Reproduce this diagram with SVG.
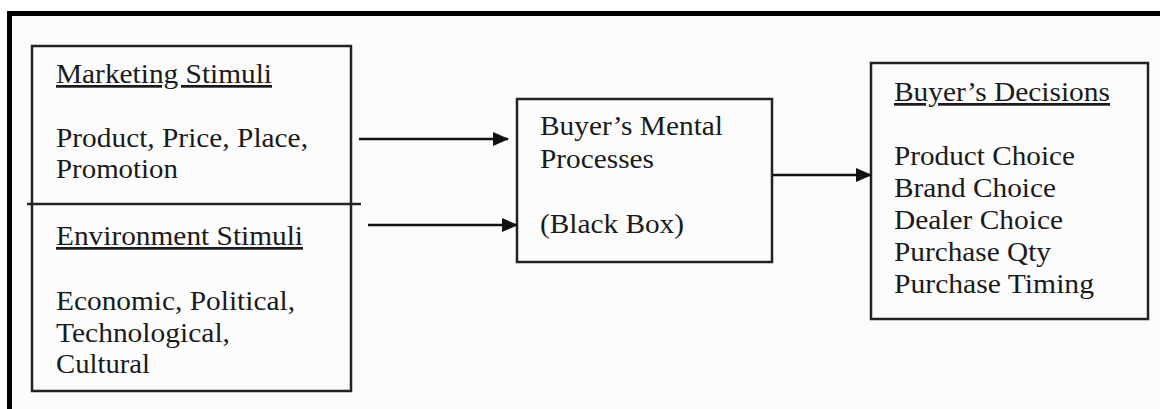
<svg xmlns="http://www.w3.org/2000/svg" width="1160" height="409" viewBox="0 0 1160 409">
<style>
.t{font-family:"Liberation Serif","Times New Roman",serif;font-size:27px;fill:#1a1a1a}
.u{text-decoration:underline}
.box{fill:none;stroke:#222;stroke-width:2.5}
.con{stroke:#111;stroke-width:2.5;fill:none}
</style>
<defs>
<marker id="ah" markerWidth="16" markerHeight="14" refX="15" refY="7" orient="auto" markerUnits="userSpaceOnUse">
<path d="M0,0 L16,7 L0,14 Z" fill="#111"/>
</marker>
</defs>
<rect width="1160" height="409" fill="#ffffff"/>
<rect x="9" y="13" width="1151" height="396" fill="#fcfcfc"/>
<path d="M9.5,409 V13.5 H1160" fill="none" stroke="#000" stroke-width="5"/>
<g id="stimuli">
<rect class="box" x="32" y="46" width="319" height="345"/>
<line class="box" x1="27" y1="204" x2="361" y2="204"/>
<text class="t u" x="56" y="83" textLength="216" lengthAdjust="spacingAndGlyphs">Marketing Stimuli</text>
<text class="t" x="56" y="147" textLength="252" lengthAdjust="spacingAndGlyphs">Product, Price, Place,</text>
<text class="t" x="56" y="178" textLength="122" lengthAdjust="spacingAndGlyphs">Promotion</text>
<text class="t u" x="56" y="245" textLength="247" lengthAdjust="spacingAndGlyphs">Environment Stimuli</text>
<text class="t" x="56" y="310" textLength="239" lengthAdjust="spacingAndGlyphs">Economic, Political,</text>
<text class="t" x="56" y="342" textLength="174" lengthAdjust="spacingAndGlyphs">Technological,</text>
<text class="t" x="56" y="373" textLength="94" lengthAdjust="spacingAndGlyphs">Cultural</text>
</g>
<g id="blackbox">
<rect class="box" x="517" y="99" width="255" height="163"/>
<text class="t" x="540" y="135" textLength="183" lengthAdjust="spacingAndGlyphs">Buyer’s Mental</text>
<text class="t" x="540" y="168" textLength="114" lengthAdjust="spacingAndGlyphs">Processes</text>
<text class="t" x="540" y="233" textLength="144" lengthAdjust="spacingAndGlyphs">(Black Box)</text>
</g>
<g id="decisions">
<rect class="box" x="871" y="63" width="277" height="256"/>
<text class="t u" x="894" y="101" textLength="216" lengthAdjust="spacingAndGlyphs">Buyer’s Decisions</text>
<text class="t" x="894" y="165" textLength="181" lengthAdjust="spacingAndGlyphs">Product Choice</text>
<text class="t" x="894" y="197" textLength="162" lengthAdjust="spacingAndGlyphs">Brand Choice</text>
<text class="t" x="894" y="229" textLength="169" lengthAdjust="spacingAndGlyphs">Dealer Choice</text>
<text class="t" x="894" y="261" textLength="157" lengthAdjust="spacingAndGlyphs">Purchase Qty</text>
<text class="t" x="894" y="293" textLength="200" lengthAdjust="spacingAndGlyphs">Purchase Timing</text>
</g>
<g id="connectors">
<line class="con" x1="359" y1="139" x2="508" y2="139" marker-end="url(#ah)"/>
<line class="con" x1="368" y1="225" x2="517" y2="225" marker-end="url(#ah)"/>
<line class="con" x1="772" y1="175" x2="871" y2="175" marker-end="url(#ah)"/>
</g>
</svg>
